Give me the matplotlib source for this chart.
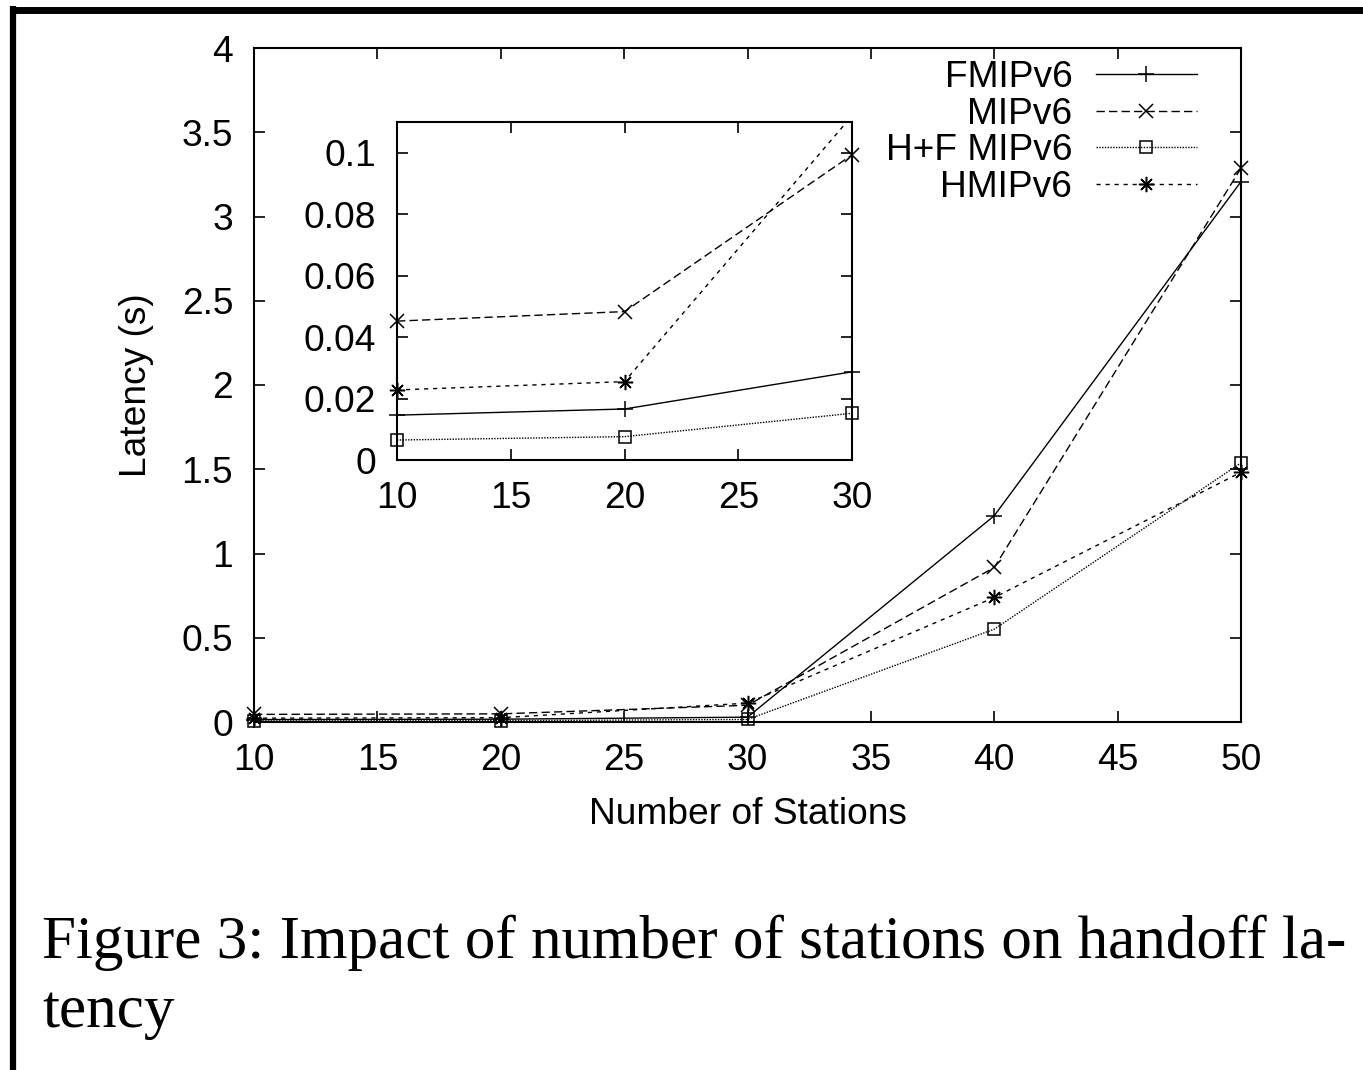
import matplotlib
matplotlib.use("Agg")
import matplotlib.pyplot as plt
from matplotlib.lines import Line2D
import numpy as np

plt.rcParams['font.family'] = ['Liberation Sans', 'DejaVu Sans']

stations = [10, 20, 30, 40, 50]
fmipv6 = [0.0146, 0.0166, 0.0287, 1.224, 3.207]
mipv6 = [0.0452, 0.0483, 0.0993, 0.917, 3.287]
hf_mipv6 = [0.0065, 0.0076, 0.0152, 0.551, 1.538]
hmipv6 = [0.0228, 0.0255, 0.112, 0.739, 1.482]

labels = ["FMIPv6", "MIPv6", "H+F MIPv6", "HMIPv6"]
series = [fmipv6, mipv6, hf_mipv6, hmipv6]

main_xticks = [10, 15, 20, 25, 30, 35, 40, 45, 50]
main_yticks = [0, 0.5, 1, 1.5, 2, 2.5, 3, 3.5, 4]
main_yticklabels = ["0", "0.5", "1", "1.5", "2", "2.5", "3", "3.5", "4"]
inset_xticks = [10, 15, 20, 25, 30]
inset_yticks = [0, 0.02, 0.04, 0.06, 0.08, 0.1]
inset_yticklabels = ["0", "0.02", "0.04", "0.06", "0.08", "0.1"]

caption_lines = ["Figure 3: Impact of number of stations on handoff la-", "tency"]

styles = [
    dict(linestyle='-', marker='+', ms=11, mew=1.1),
    dict(linestyle=(0, (6, 3)), marker='x', ms=10, mew=1.1),
    dict(linestyle=(0, (1, 1)), marker='s', ms=9, mew=1.1, mfc='none'),
    dict(linestyle=(0, (3, 3.5)), marker=(8, 2, 0), ms=11, mew=1.1),
]

W, H = 1363, 1070
fig = plt.figure(figsize=(W / 100, H / 100), dpi=100)

FS = 26.7

ax = fig.add_axes([254 / W, 1 - 722 / H, (1241 - 254) / W, (722 - 48) / H])
handles = []
for s, lab, st in zip(series, labels, styles):
    h, = ax.plot(stations, s, color='black', lw=1.0, clip_on=False, label=lab, **st)
    handles.append(h)
ax.set_xlim(10, 50)
ax.set_ylim(0, 4)
ax.set_xticks(main_xticks)
ax.set_xticklabels([str(t) for t in main_xticks])
ax.set_yticks(main_yticks)
ax.set_yticklabels(main_yticklabels)
ax.tick_params(direction='in', length=8, width=1.2, top=True, right=True,
               labelsize=FS, pad=15)
for sp in ax.spines.values():
    sp.set_linewidth(1.5)
ax.set_xlabel("Number of Stations", fontsize=FS, labelpad=14)
ax.set_ylabel("Latency (s)", fontsize=FS, labelpad=20)

leg = ax.legend(handles=handles, loc='upper right', bbox_to_anchor=(0.97, 1.004),
                frameon=False, markerfirst=False, fontsize=FS, handlelength=2.7,
                labelspacing=0.04, handletextpad=0.65, borderaxespad=0)
for t in leg.get_texts():
    t.set_ha('right')

# inset
ins = fig.add_axes([397 / W, 1 - 460 / H, (852 - 397) / W, (460 - 122) / H])
for s, st in zip(series, styles):
    xs = stations[:3]
    ys = np.array(s[:3], dtype=float)
    ins.plot(xs, ys, color='black', lw=1.0, linestyle=st['linestyle'])
    ym = np.where(ys <= 0.11, ys, np.nan)
    mk = {k: v for k, v in st.items() if k != 'linestyle'}
    ins.plot(xs, ym, color='black', lw=0, linestyle='none', clip_on=False, **mk)
ins.set_xlim(10, 30)
ins.set_ylim(0, 0.11)
ins.set_xticks(inset_xticks)
ins.set_xticklabels([str(t) for t in inset_xticks])
ins.set_yticks(inset_yticks)
ins.set_yticklabels(inset_yticklabels)
ins.tick_params(direction='in', length=8, width=1.2, top=True, right=True,
                labelsize=FS, pad=15)
for sp in ins.spines.values():
    sp.set_linewidth(1.5)

fig.text(42 / W, 1 - 958 / H, caption_lines[0], fontsize=44, family=['Liberation Serif'],
         ha='left', va='baseline')
fig.text(42 / W, 1 - 1027 / H, caption_lines[1], fontsize=44, family=['Liberation Serif'],
         ha='left', va='baseline')

# frame (top and left edges)
fig.add_artist(Line2D([10 / W, 1.0], [1 - 9.5 / H, 1 - 9.5 / H], transform=fig.transFigure,
                      color='black', lw=5, solid_capstyle='butt'))
fig.add_artist(Line2D([13 / W, 13 / W], [1 - 6 / H, 0.0], transform=fig.transFigure,
                      color='black', lw=4.5, solid_capstyle='butt'))

fig.savefig("out.png", dpi=100)
